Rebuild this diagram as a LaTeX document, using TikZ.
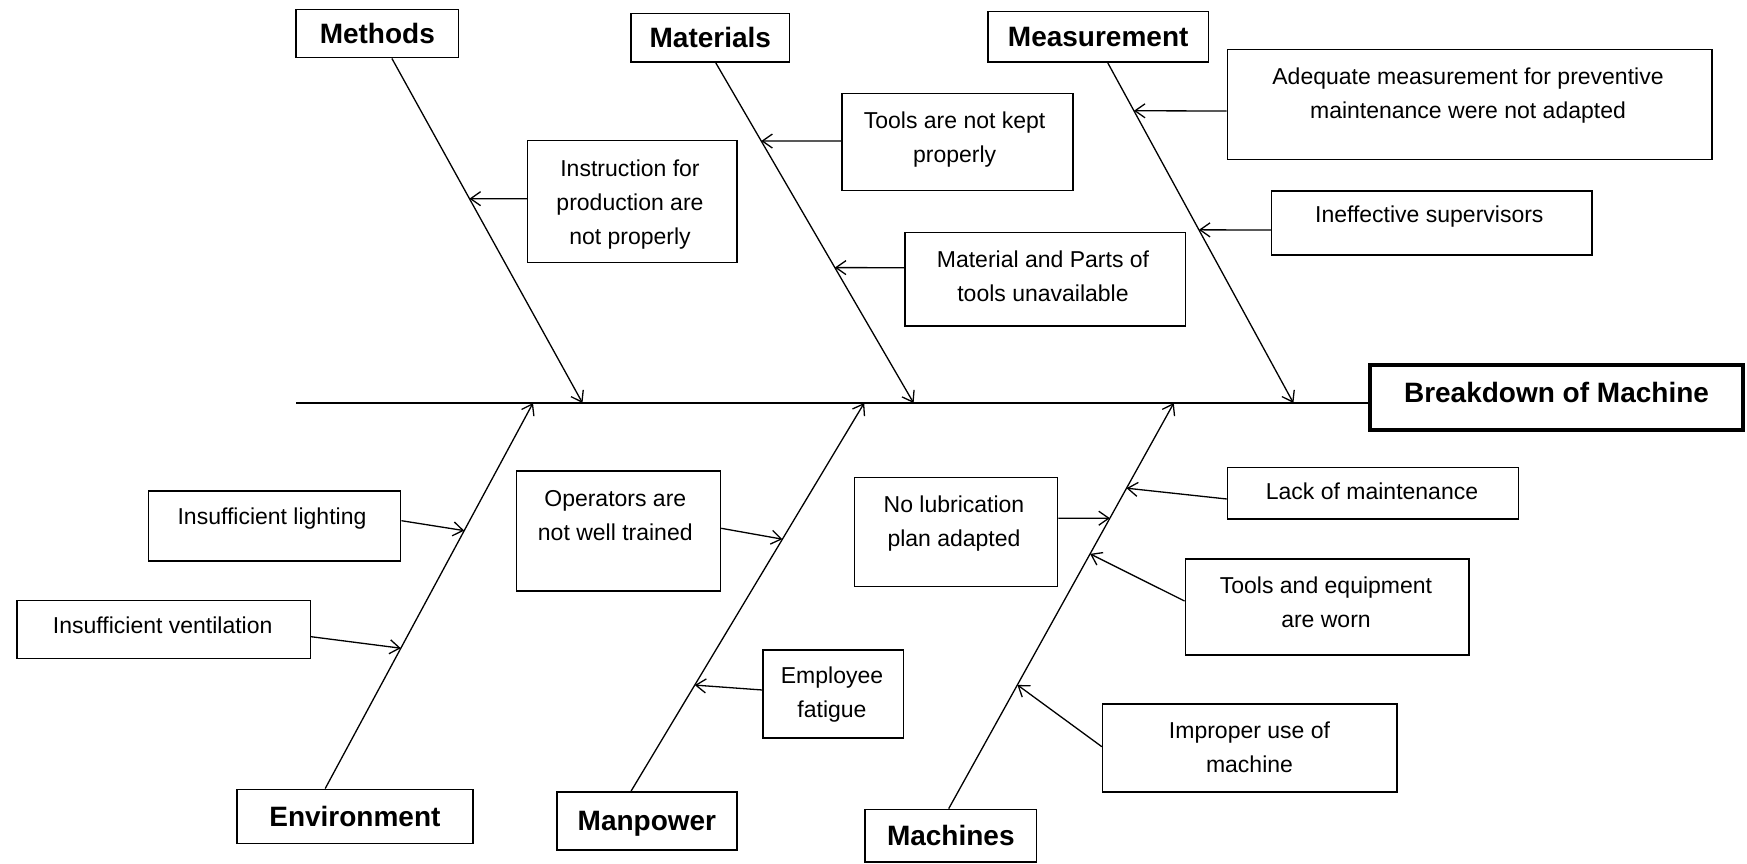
\documentclass[tikz,border=0pt]{standalone}
\usepackage{fontspec}
\setmainfont{Liberation Sans}
\usetikzlibrary{arrows.meta,calc}
\begin{document}
\begin{tikzpicture}[x=1pt,y=-1pt,
  box/.style 2 args={draw, line width=1.5pt, inner sep=0pt,
    minimum width=#1, minimum height=#2},
  cat/.style={font=\bfseries\fontsize{28}{32}\selectfont,
    text height=20pt, text depth=0pt},
  txt/.style={font=\fontsize{23}{34}\selectfont, align=center,
    anchor=north, inner sep=0pt},
  branch/.style={line width=1.3pt, -{Straight Barb[length=10pt,width=14pt]}},
  cause/.style={line width=1.3pt, -{Straight Barb[length=10pt,width=14pt]}}
]
\useasboundingbox (0,0) rectangle (1747,864);

% effect and spine
\node[draw, line width=4pt, minimum width=373pt, minimum height=65pt, inner sep=0pt,
  cat, text depth=11pt] (bd) at (1556.5,397.5) {Breakdown of Machine};
\coordinate (spL) at (296,403);
\draw[line width=2pt] (spL) -- (spL -| bd.west);

% category boxes
\node[box={162.5pt}{48.4pt}, cat] (meth) at (377.3,33.5) {Methods};
\node[box={158.6pt}{48.7pt}, cat] (mat)  at (710.3,37.7) {Materials};
\node[box={220.4pt}{50.3pt}, cat] (meas) at (1098.2,36.9) {Measurement};
\node[box={236.2pt}{54pt},   cat] (env)  at (354.9,816.3) {Environment};
\node[box={179.8pt}{58.3pt}, cat] (man)  at (646.9,820.9) {Manpower};
\node[box={171.8pt}{52.7pt}, cat] (mach) at (950.8,835.7) {Machines};

% branch ends
\coordinate (ms)  at ($(meth.south west)!0.589!(meth.south east)$);
\coordinate (mt)  at (582.5,403);
\coordinate (as)  at ($(mat.south west)!0.534!(mat.south east)$);
\coordinate (at)  at (913.6,403);
\coordinate (us)  at ($(meas.south west)!0.543!(meas.south east)$);
\coordinate (ut)  at (1293.4,403);
\coordinate (es)  at ($(env.north west)!0.375!(env.north east)$);
\coordinate (et)  at (533,403);
\coordinate (ps)  at ($(man.north west)!0.413!(man.north east)$);
\coordinate (pt)  at (864.2,403);
\coordinate (cs)  at ($(mach.north west)!0.488!(mach.north east)$);
\coordinate (ct)  at (1173.8,403);

\draw[branch] (ms) -- (mt);
\draw[branch] (as) -- (at);
\draw[branch] (us) -- (ut);
\draw[branch] (es) -- (et);
\draw[branch] (ps) -- (pt);
\draw[branch] (cs) -- (ct);

% cause boxes
\node[box={209.3pt}{122pt}]  (bInstr) at (632.2,201.7) {};
\node[box={231.2pt}{97.4pt}] (bTk)    at (957.4,142) {};
\node[box={280.4pt}{93.7pt}] (bMp)    at (1045.2,279.2) {};
\node[box={484.3pt}{110pt}]  (bAq)    at (1469.6,104.3) {};
\node[box={320.4pt}{64.3pt}] (bIe)    at (1431.8,222.9) {};
\node[box={252pt}{70.3pt}]   (bIl)    at (274.7,525.9) {};
\node[box={293.5pt}{58pt}]   (bIv)    at (163.6,629.3) {};
\node[box={204.2pt}{119.7pt}] (bOp)   at (618.4,530.9) {};
\node[box={140.4pt}{87.7pt}] (bEf)    at (833.4,693.9) {};
\node[box={203pt}{109.4pt}]  (bNl)    at (956,532) {};
\node[box={291pt}{51.7pt}]   (bLm)    at (1373,493.2) {};
\node[box={283.5pt}{96pt}]   (bTe)    at (1327,607) {};
\node[box={294.4pt}{87.7pt}] (bIm)    at (1249.8,747.9) {};

% cause texts (top of first line)
\node[txt] (tInstr) at (630,159.2) {Instruction for\\production are\\not properly};
\node[txt] (tTk)    at (954.6,111.2) {Tools are not kept\\properly};
\node[txt] (tMp)    at (1043,250.2) {Material and Parts of\\tools unavailable};
\node[txt] (tAq)    at (1468,67.2) {Adequate measurement for preventive\\maintenance were not adapted};
\node[txt] (tIe)    at (1429.3,205.9) {Ineffective supervisors};
\node[txt] (tIl)    at (272,507.2) {Insufficient lighting};
\node[txt] (tIv)    at (162.7,616.2) {Insufficient ventilation};
\node[txt] (tOp)    at (615.3,490.2) {Operators are\\not well trained};
\node[txt] (tEf)    at (832,666.2) {Employee\\fatigue};
\node[txt] (tNl)    at (954,495.2) {No lubrication\\plan adapted};
\node[txt] (tLm)    at (1372,482.2) {Lack of maintenance};
\node[txt] (tTe)    at (1326,576.2) {Tools and equipment\\are worn};
\node[txt] (tIm)    at (1249.5,721.2) {Improper use of\\machine};

% cause arrows
\draw[cause] (bInstr.west |- 0,198.7) -- ($(ms)!0.407!(mt)$);
\draw[cause] (bTk.west |- 0,141)      -- ($(as)!0.230!(at)$);
\draw[cause] (bMp.west |- 0,267.7)    -- ($(as)!0.602!(at)$);
\draw[cause] (bAq.west |- 0,111)      -- ($(us)!0.141!(ut)$);
\draw[cause] (bIe.west |- 0,230)      -- ($(us)!0.491!(ut)$);
\draw[cause] (bIl.east |- 0,520.7)    -- ($(es)!0.669!(et)$);
\draw[cause] (bIv.east |- 0,636.7)    -- ($(es)!0.364!(et)$);
\draw[cause] (bOp.east |- 0,528.3)    -- ($(ps)!0.649!(pt)$);
\draw[cause] (bEf.west |- 0,690)      -- ($(ps)!0.273!(pt)$);
\draw[cause] (bNl.east |- 0,518.3)    -- ($(cs)!0.716!(ct)$);
\draw[cause] (bLm.west |- 0,499)      -- ($(cs)!0.790!(ct)$);
\draw[cause] (bTe.west |- 0,601)      -- ($(cs)!0.628!(ct)$);
\draw[cause] (bIm.west |- 0,746.7)    -- ($(cs)!0.305!(ct)$);
\end{tikzpicture}
\end{document}
